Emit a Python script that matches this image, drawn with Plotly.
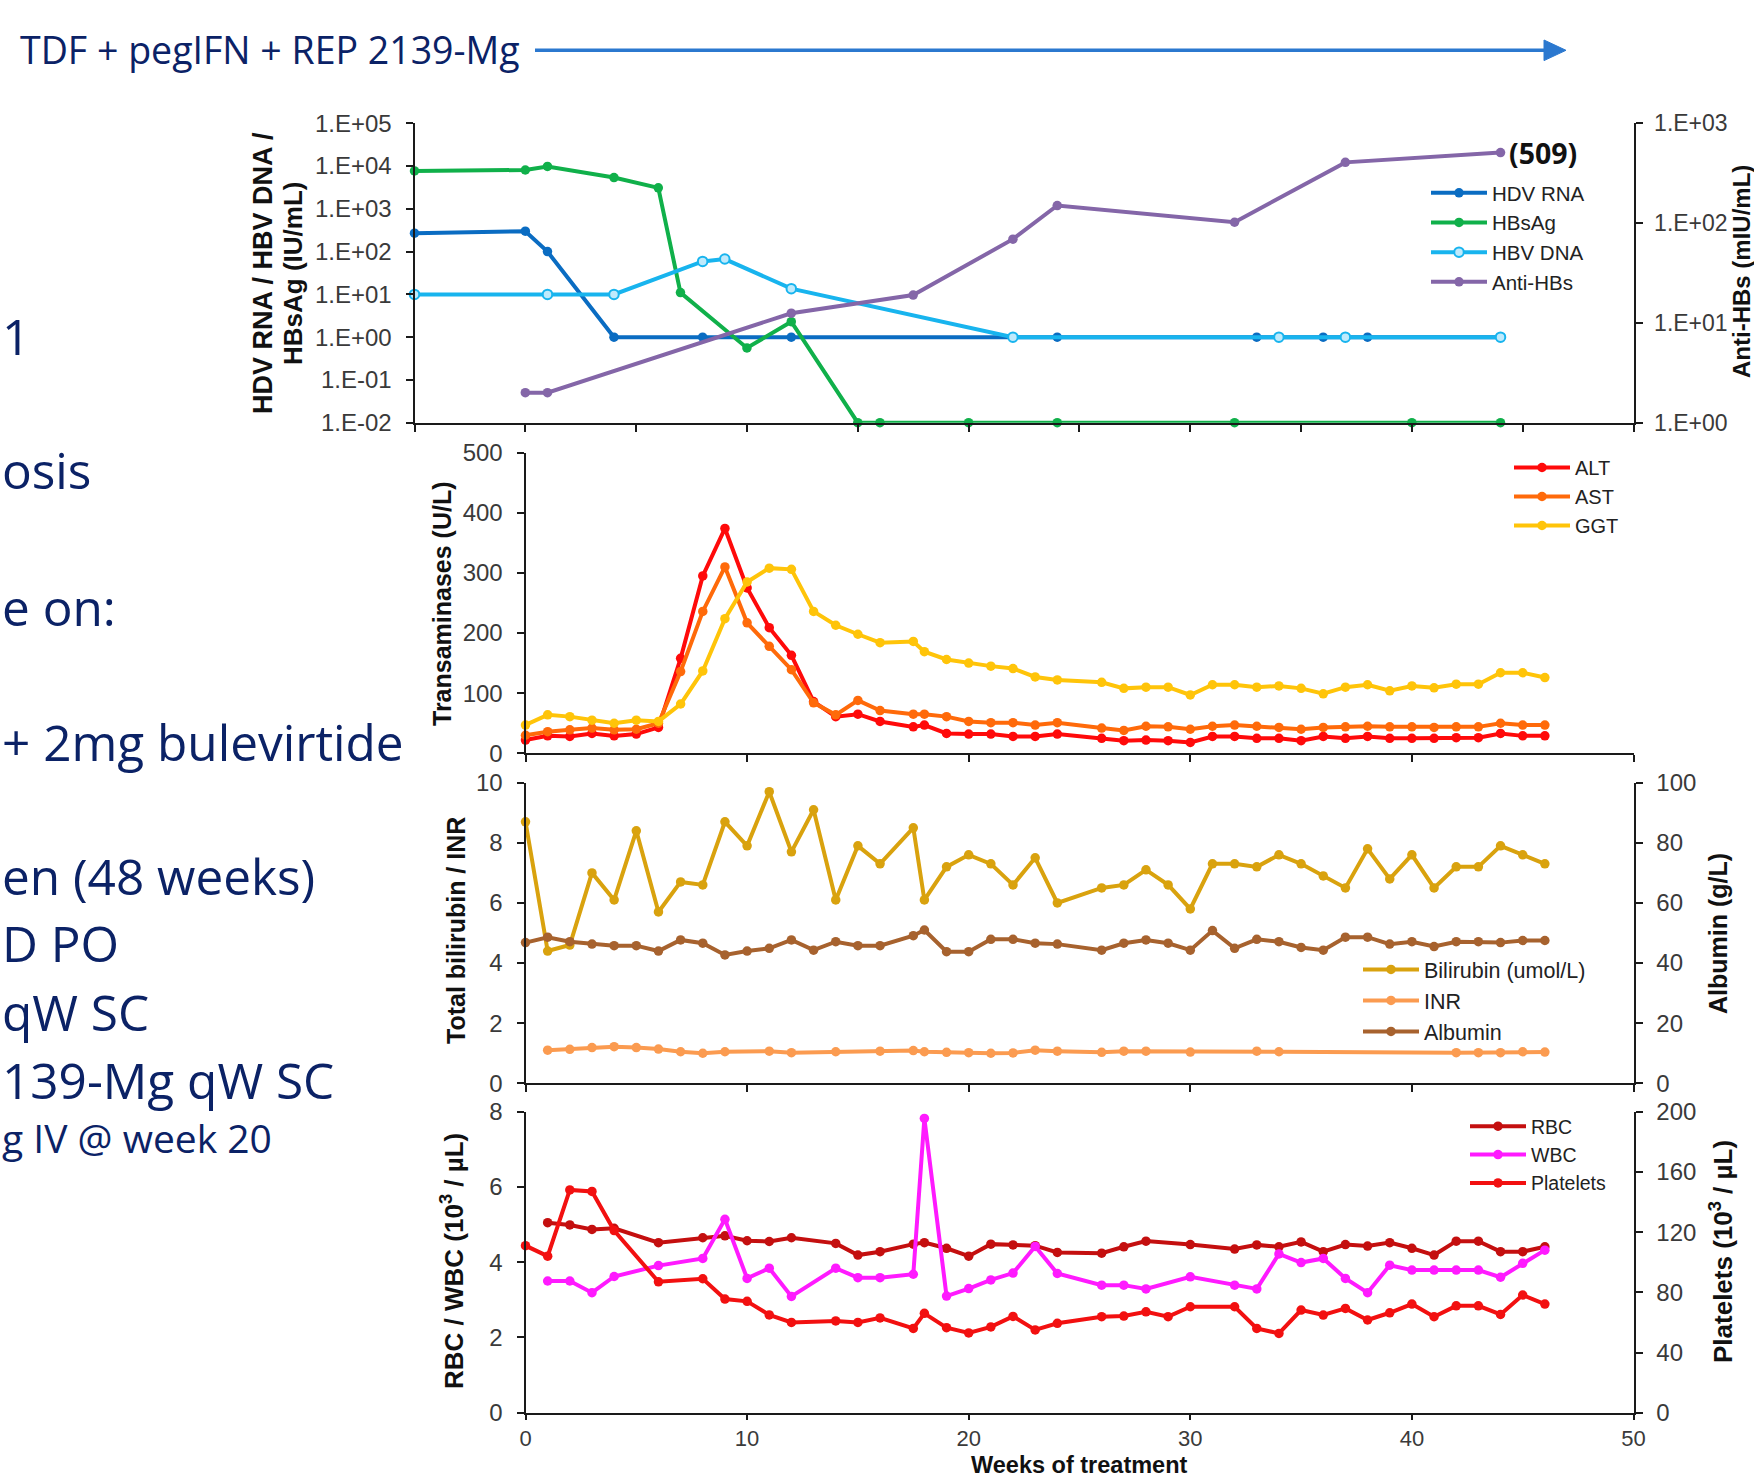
import math
import plotly.graph_objects as go

W, H = 1754, 1479

# ---------------- data ----------------
# Panel 1 (log scale, IU/mL) and Anti-HBs (mIU/mL, right axis)
hdv_weeks = [-5, 0, 1, 4, 8, 12, 24, 33, 36, 38, 44]
hdv_rna = [270, 300, 100, 1, 1, 1, 1, 1, 1, 1, 1]
hbsag_weeks = [-5, 0, 1, 4, 6, 7, 10, 12, 15, 16, 20, 24, 32, 40, 44]
hbsag = [7700, 8100, 9800, 5400, 3100, 11, 0.56, 2.3, 0.01, 0.01, 0.01, 0.01, 0.01, 0.01, 0.01]
hbv_weeks = [-5, 1, 4, 8, 9, 12, 22, 34, 37, 44]
hbv_dna = [10, 10, 10, 59, 67, 13.6, 1, 1, 1, 1]
antihbs_weeks = [0, 1, 12, 17.5, 22, 24, 32, 37, 44]
antihbs = [2, 2, 12.5, 19, 69, 150, 102, 406, 509]

# Panel 2 (U/L)
lab_weeks = [0, 1, 2, 3, 4, 5, 6, 7, 8, 9, 10, 11, 12, 13, 14, 15, 16, 17.5,
             18, 19, 20, 21, 22, 23, 24, 26, 27, 28, 29, 30, 31, 32, 33, 34, 35,
             36, 37, 38, 39, 40, 41, 42, 43, 44, 45, 46]
alt = [22, 29, 28, 33, 29, 32, 43, 158, 295, 374, 275, 209, 163, 86, 61, 65, 53, 44,
       47, 33, 32, 32, 28, 28, 32, 25, 21, 22, 21, 18, 28, 28, 25, 25, 21,
       28, 25, 28, 25, 25, 25, 26, 26, 33, 29, 29]
ast = [30, 36, 39, 42, 39, 40, 50, 136, 236, 310, 217, 178, 139, 84, 64, 88, 71, 65,
       65, 61, 53, 51, 51, 47, 51, 42, 38, 45, 44, 40, 45, 47, 45, 43, 40,
       43, 44, 45, 44, 44, 43, 44, 44, 50, 47, 47]
ggt = [47, 64, 61, 55, 50, 55, 53, 82, 137, 224, 285, 308, 306, 236, 213, 198, 184, 186,
       169, 156, 150, 145, 141, 127, 122, 118, 108, 110, 110, 97, 114, 114, 110, 112, 108,
       99, 110, 114, 104, 112, 109, 115, 115, 134, 134, 126]

# Panel 3
bilirubin = [8.7, 4.4, 4.6, 7.0, 6.1, 8.4, 5.7, 6.7, 6.6, 8.7, 7.9, 9.7, 7.7, 9.1, 6.1, 7.9, 7.3, 8.5,
             6.1, 7.2, 7.6, 7.3, 6.6, 7.5, 6.0, 6.5, 6.6, 7.1, 6.6, 5.8, 7.3, 7.3, 7.2, 7.6, 7.3,
             6.9, 6.5, 7.8, 6.8, 7.6, 6.5, 7.2, 7.2, 7.9, 7.6, 7.3]
albumin = [46.8, 48.6, 47.1, 46.3, 45.8, 45.8, 44.0, 47.7, 46.6, 42.7, 44.0, 44.9, 47.7, 44.3, 47.1, 45.8, 45.8, 49.1,
           51.0, 43.8, 43.8, 47.9, 47.9, 46.6, 46.3, 44.3, 46.6, 47.7, 46.6, 44.3, 50.8, 44.9, 47.9, 47.1, 45.2,
           44.3, 48.6, 48.6, 46.3, 47.1, 45.5, 47.1, 47.1, 46.8, 47.5, 47.5]
inr_weeks = [1, 2, 3, 4, 5, 6, 7, 8, 9, 11, 12, 14, 16, 17.5, 18, 19, 20, 21, 22, 23, 24,
             26, 27, 28, 30, 33, 34, 42, 43, 44, 45, 46]
inr = [1.10, 1.13, 1.19, 1.22, 1.19, 1.14, 1.05, 1.00, 1.05, 1.07, 1.02, 1.05, 1.07, 1.09, 1.05,
       1.03, 1.02, 1.00, 1.01, 1.10, 1.07, 1.03, 1.07, 1.07, 1.04, 1.07, 1.05, 1.02, 1.02, 1.02, 1.05, 1.04]

# Panel 4
cbc_weeks = [1, 2, 3, 4, 6, 8, 9, 10, 11, 12, 14, 15, 16, 17.5, 18, 19, 20, 21, 22, 23, 24,
             26, 27, 28, 30, 32, 33, 34, 35, 36, 37, 38, 39, 40, 41, 42, 43, 44, 45, 46]
rbc = [5.05, 4.99, 4.87, 4.90, 4.52, 4.65, 4.70, 4.57, 4.55, 4.65, 4.50, 4.19, 4.28, 4.48, 4.52,
       4.37, 4.16, 4.48, 4.46, 4.44, 4.26, 4.24, 4.41, 4.56, 4.47, 4.35, 4.46, 4.41, 4.54, 4.28,
       4.47, 4.43, 4.52, 4.37, 4.19, 4.56, 4.56, 4.28, 4.28, 4.41]
wbc = [3.50, 3.50, 3.19, 3.62, 3.91, 4.10, 5.14, 3.57, 3.84, 3.09, 3.84, 3.59, 3.59, 3.68, 7.82,
       3.10, 3.30, 3.53, 3.71, 4.42, 3.70, 3.39, 3.39, 3.29, 3.61, 3.39, 3.29, 4.22, 3.99, 4.10,
       3.57, 3.19, 3.92, 3.79, 3.79, 3.79, 3.79, 3.60, 3.97, 4.32]
plt_weeks = [0, 1, 2, 3, 4, 6, 8, 9, 10, 11, 12, 14, 15, 16, 17.5, 18, 19, 20, 21, 22, 23, 24,
             26, 27, 28, 29, 30, 32, 33, 34, 35, 36, 37, 38, 39, 40, 41, 42, 43, 44, 45, 46]
platelets = [111, 104, 148, 147, 121, 87, 89, 75.5, 74, 65, 60, 61, 60, 63, 56, 66, 56.5, 53, 57, 64, 55, 59.4,
             63.8, 64.2, 67, 63.8, 70.4, 70.4, 56, 52.7, 68.2, 64.9, 69.3, 61.6, 66.4, 72.2, 63.8, 71, 71,
             65.3, 78.2, 72.2]

log_ticks = [0.01, 0.1, 1, 10, 100, 1000, 10000, 100000]
log_labels = ["1.E-02", "1.E-01", "1.E+00", "1.E+01", "1.E+02", "1.E+03", "1.E+04", "1.E+05"]
r_ticks = [1, 10, 100, 1000]
r_labels = ["1.E+00", "1.E+01", "1.E+02", "1.E+03"]

left_lines = ["1", "osis", "e on:", "+ 2mg bulevirtide", "en (48 weeks)",
              "D PO", "qW SC", "139-Mg qW SC", "g IV @ week 20"]

# ---------------- helpers ----------------
def fx(p):
    return p / W

def fy(p):
    return 1 - p / H

NAVY = "#0b2266"
TICKFONT = dict(family="Liberation Sans, Arial, sans-serif", size=24, color="#3a3a3a")
TITLEFONT = dict(family="Liberation Sans, Arial, sans-serif", size=25, color="#111111")

fig = go.Figure()

def trace(x, y, name, color, xa, ya, leg, open_marker=False, width=4):
    mk = dict(size=9.5, color=color)
    if open_marker:
        mk = dict(size=9.5, color="#bfeafc", line=dict(color=color, width=2))
    fig.add_trace(go.Scatter(
        x=x, y=y, name=name, mode="lines+markers",
        line=dict(color=color, width=width), marker=mk,
        xaxis=xa, yaxis=ya, legend=leg, cliponaxis=False,
        legendgroup=name))

trace(hdv_weeks, hdv_rna, "HDV RNA", "#0a6cc2", "x", "y", "legend")
trace(hbsag_weeks, hbsag, "HBsAg", "#10b04a", "x", "y", "legend")
trace(hbv_weeks, hbv_dna, "HBV DNA", "#18b4ee", "x", "y", "legend", open_marker=True)
trace(antihbs_weeks, antihbs, "Anti-HBs", "#8466a8", "x", "y2", "legend")

trace(lab_weeks, alt, "ALT", "#ff0a0a", "x2", "y3", "legend2")
trace(lab_weeks, ast, "AST", "#ff6a0a", "x2", "y3", "legend2")
trace(lab_weeks, ggt, "GGT", "#ffc409", "x2", "y3", "legend2")

trace(lab_weeks, bilirubin, "Bilirubin (umol/L)", "#d9a20e", "x3", "y4", "legend3")
trace(inr_weeks, inr, "INR", "#fb9b50", "x3", "y4", "legend3")
trace(lab_weeks, albumin, "Albumin", "#a7622e", "x3", "y5", "legend3")

trace(cbc_weeks, rbc, "RBC", "#c40f0f", "x4", "y6", "legend4")
trace(cbc_weeks, wbc, "WBC", "#ff1aff", "x4", "y6", "legend4")
trace(plt_weeks, platelets, "Platelets", "#f21010", "x4", "y7", "legend4")

common = dict(showline=True, linecolor="#1a1a1a", linewidth=2, ticks="outside", ticklen=7,
              tickwidth=2, tickcolor="#1a1a1a", showgrid=False, zeroline=False,
              tickfont=TICKFONT, ticklabelstandoff=9, fixedrange=True, automargin=False)

x_dom1 = [fx(414.5), fx(1633.5)]
x_dom = [fx(525.5), fx(1633.5)]
y_dom1 = [fy(422.7), fy(123.3)]
y_dom2 = [fy(753.3), fy(452.7)]
y_dom3 = [fy(1083.3), fy(782.7)]
y_dom4 = [fy(1412.7), fy(1111.7)]

fig.update_layout(
    width=W, height=H, margin=dict(l=0, r=0, t=0, b=0, autoexpand=False),
    paper_bgcolor="white", plot_bgcolor="rgba(0,0,0,0)", showlegend=True,
    xaxis=dict(common, domain=x_dom1, range=[-5, 50], anchor="y",
               tickvals=list(range(-5, 51, 5)), showticklabels=False),
    yaxis=dict(common, domain=y_dom1, type="log", range=[-2, 5], anchor="x",
               tickvals=log_ticks, ticktext=log_labels),
    yaxis2=dict(common, type="log", range=[0, 3], overlaying="y", side="right", anchor="x",
                tickvals=r_ticks, ticktext=r_labels, ticklabelstandoff=7,
                tickfont=dict(TICKFONT, size=23)),
    xaxis2=dict(common, domain=x_dom, range=[0, 50], anchor="y3",
                tickvals=list(range(0, 51, 10)), showticklabels=False),
    yaxis3=dict(common, domain=y_dom2, range=[0, 500], anchor="x2",
                tickvals=list(range(0, 501, 100))),
    xaxis3=dict(common, domain=x_dom, range=[0, 50], anchor="y4",
                tickvals=list(range(0, 51, 10)), showticklabels=False),
    yaxis4=dict(common, domain=y_dom3, range=[0, 10], anchor="x3",
                tickvals=list(range(0, 11, 2))),
    yaxis5=dict(common, range=[0, 100], overlaying="y4", side="right", anchor="x3",
                tickvals=list(range(0, 101, 20))),
    xaxis4=dict(common, domain=x_dom, range=[0, 50], anchor="y6",
                tickvals=list(range(0, 51, 10)), ticklabelstandoff=0, ticklen=5,
                tickfont=dict(TICKFONT, size=22)),
    yaxis6=dict(common, domain=y_dom4, range=[0, 8], anchor="x4",
                tickvals=list(range(0, 9, 2))),
    yaxis7=dict(common, range=[0, 200], overlaying="y6", side="right", anchor="x4",
                tickvals=list(range(0, 201, 40))),
)

def legfont(size):
    return dict(family="Liberation Sans, Arial, sans-serif", size=size, color="#222222")

leg_common = dict(bgcolor="rgba(0,0,0,0)", borderwidth=0,
                  xanchor="left", yanchor="top", itemwidth=56, tracegroupgap=0,
                  orientation="v")
fig.update_layout(
    legend=dict(leg_common, font=legfont(20.5), x=fx(1426), y=fy(173)),
    legend2=dict(leg_common, font=legfont(20), x=fx(1509), y=fy(448)),
    legend3=dict(leg_common, font=legfont(21.5), x=fx(1358), y=fy(949)),
    legend4=dict(leg_common, font=legfont(19.5), x=fx(1465), y=fy(1107)),
)

ann = []
# title
ann.append(dict(text="TDF + pegIFN + REP 2139-Mg", x=fx(18), y=fy(50), xref="paper", yref="paper",
                xanchor="left", yanchor="middle", showarrow=False,
                font=dict(family="Open Sans, sans-serif", size=37.5, color=NAVY)))

# left cropped text fragments
left_y = [335.6, 469.8, 607.4, 741.6, 875.9, 943, 1012.3, 1079.5, 1137.6]
for i, t in enumerate(left_lines):
    size = 39 if i == len(left_lines) - 1 else 49.5
    ann.append(dict(text=t, x=0, y=fy(left_y[i]), xref="paper", yref="paper", xshift=0,
                    xanchor="left", yanchor="middle", showarrow=False,
                    font=dict(family="Open Sans, sans-serif", size=size, color=NAVY)))

# axis titles
def vtitle(text, x, y, angle=-90, size=25):
    ann.append(dict(text=text, x=fx(x), y=fy(y), xref="paper", yref="paper", textangle=angle,
                    xanchor="center", yanchor="middle", showarrow=False,
                    font=dict(TITLEFONT, size=size, weight="bold")))

vtitle("HDV RNA / HBV DNA /", 263, 273, size=27)
vtitle("HBsAg (IU/mL)", 293, 274, size=26)
vtitle("Anti-HBs (mIU/mL)", 1741, 272, size=24)
vtitle("Transaminases (U/L)", 442, 603)
vtitle("Total bilirubin / INR", 456, 931)
vtitle("Albumin (g/L)", 1718, 934)
vtitle("RBC / WBC (10<sup>3</sup> / µL)", 452, 1261, size=26)
vtitle("Platelets (10<sup>3</sup> / µL)", 1721, 1252, size=26)
vtitle("Weeks of treatment", 1079, 1465, angle=0, size=23.5)

# (509) label on last anti-HBs point
ann.append(dict(text="<b>(509)</b>", x=antihbs_weeks[-1], y=math.log10(antihbs[-1]),
                xref="x", yref="y2", xanchor="left", yanchor="middle", xshift=6, showarrow=False,
                font=dict(family="Open Sans, sans-serif", size=28.5, color="#111111")))

fig.update_layout(annotations=ann)

# arrow line and head
ARROW = "#2b78cf"
fig.add_shape(type="line", xref="paper", yref="paper", x0=fx(535), x1=fx(1548), y0=fy(50.3), y1=fy(50.3),
              line=dict(color=ARROW, width=3.5))
fig.add_shape(type="path", xref="paper", yref="paper",
              path=f"M {fx(1544)} {fy(40)} L {fx(1566)} {fy(50.3)} L {fx(1544)} {fy(60.6)} Z",
              fillcolor=ARROW, line=dict(color=ARROW, width=1))

post = ("document.documentElement.style.margin='0';document.documentElement.style.overflow='hidden';"
        "document.body.style.margin='0';document.body.style.padding='0';document.body.style.overflow='hidden';"
        "var gd=document.getElementById('{plot_id}');gd.style.position='absolute';"
        "gd.style.left='0px';gd.style.top='0px';")

fig.write_html("out.html", config={"displayModeBar": False}, post_script=post)
